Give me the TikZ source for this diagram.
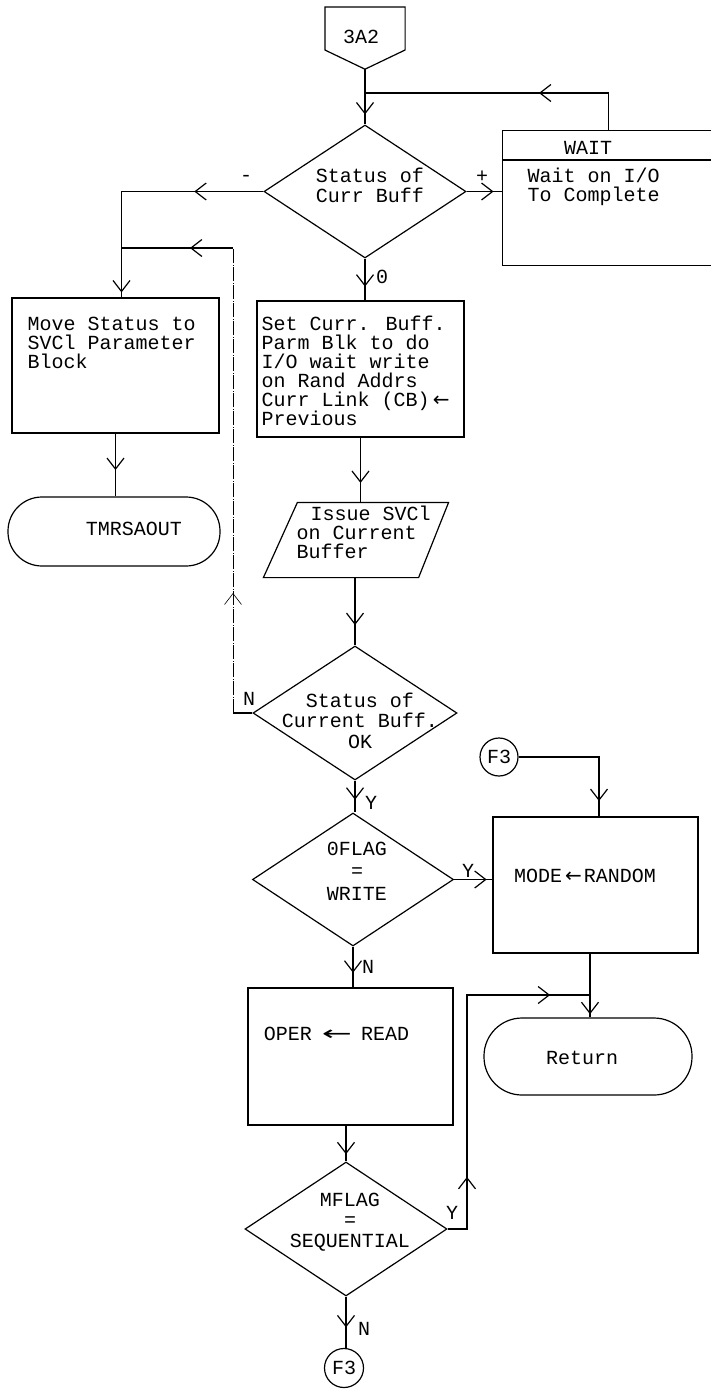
\documentclass[tikz,border=0pt]{standalone}
\usepackage{fontspec}
\usepackage{graphicx}
\setmainfont{Liberation Mono}
\newfontfamily\arrfont{DejaVu Sans}
\usetikzlibrary{arrows.meta,decorations.markings,shapes.geometric,calc}
\tikzset{
  >={Straight Barb[length=11pt,width=17pt]},
  am/.style={postaction={decorate},decoration={markings,mark=at position #1 with {\arrow{>}}}},
  amtwo/.style 2 args={postaction={decorate},decoration={markings,mark=at position #1 with {\arrow{>}},mark=at position #2 with {\arrow{>}}}},
  box/.style={draw,rectangle,inner sep=0pt},
  term/.style={draw,rectangle,inner sep=0pt},
  dia/.style={draw,diamond,inner sep=0pt},
  conn/.style={draw,circle,inner sep=0pt,font=\fontsize{20}{20}\selectfont},
  txt/.style={inner sep=0pt,font=\fontsize{20}{19}\selectfont},
  lbl/.style={inner sep=0pt,font=\fontsize{20}{20}\selectfont},
  dd/.style={line width=0.6pt,dash pattern=on 14pt off 1.5pt on 1pt off 1.5pt}
}
\begin{document}
\begin{tikzpicture}[x=1pt,y=-1pt,line width=1.2pt]
\path[use as bounding box,fill=white] (0,0) rectangle (710,1395);

% entry connector 3A2
\node[inner sep=0pt,minimum width=79,minimum height=61,anchor=north] (ent) at (365,7) {};
\draw (ent.north west) -- (ent.north east) -- ($(ent.north east)+(0,43)$) -- (ent.south) -- ($(ent.north west)+(0,43)$) -- cycle;
\node[lbl] (entt) at (361,37) {3A2};

% nodes
\node[dia,minimum width=202,minimum height=133] (d1) at (365,191.5) {};
\node[txt,align=center,font=\fontsize{20}{20}\selectfont] (d1t) at (370,185) {Status of\\Curr Buff};

\node[box,minimum width=218,minimum height=135,anchor=north west] (wait) at (502,130) {};
\draw ([yshift=-30pt]wait.north west) -- ([yshift=-30pt]wait.north east);
\node[lbl] (waith) at (588,148) {WAIT};
\node[txt,align=left,anchor=north west] (waitt) at (527,167.5) {Wait on I/O\\To Complete};

\node[box,minimum width=207,minimum height=135] (move) at (115.5,365.5) {};
\node[txt,align=left,anchor=north west] (movet) at (27,316.5) {Move Status to\\SVCl Parameter\\Block};

\node[term,rounded corners=34pt,minimum width=212,minimum height=69] (tmr) at (114,531.5) {};
\node[lbl] (tmrt) at (134,529) {TMRSAOUT};

\node[box,minimum width=207,minimum height=136] (set) at (360.5,369) {};
\node[txt,align=left,anchor=north west] (sett) at (261,315) {Set Curr. Buff.\\Parm Blk to do\\I/O wait write\\on Rand Addrs\\Curr Link (CB)\,{\arrfont ←}\\Previous};

\node[inner sep=0pt,minimum width=184,minimum height=74] (iss) at (356,540) {};
\draw ($(iss.north west)+(34,0)$) -- (iss.north east) -- ($(iss.south east)+(-30,0)$) -- (iss.south west) -- cycle;
\node[txt,align=left,anchor=north west] (isst) at (296,505.5) {\hspace{14pt}Issue SVCl\\on Current\\Buffer};

\node[dia,minimum width=204,minimum height=134] (d2) at (355,713) {};
\node[txt,align=center,font=\fontsize{20}{20.5}\selectfont] (d2t) at (360,720.5) {Status of\\Current Buff.\\OK};

\node[dia,minimum width=201,minimum height=133] (d3) at (353,879.5) {};
\node[txt,align=center,font=\fontsize{20}{22.5}\selectfont] (d3t) at (357,871) {0FLAG\\=\\WRITE};

\node[conn,minimum size=38] (f3t) at (499,757) {F3};

\node[box,minimum width=205,minimum height=136] (mode) at (595.5,885) {};
\node[lbl] (modet) at (585,875.5) {MODE\hspace{3pt}{\arrfont ←}\hspace{2pt}RANDOM};

\node[box,minimum width=205,minimum height=137] (oper) at (350.5,1056.5) {};
\node[lbl] (opert) at (336.5,1033.5) {OPER\hspace{10pt}\scalebox{1.8}[1]{\arrfont ←}\hspace{9pt}READ};

\node[term,rounded corners=38pt,minimum width=208,minimum height=77] (ret) at (588,1056.5) {};
\node[lbl] (rett) at (582,1058) {Return};

\node[dia,minimum width=202,minimum height=134] (d4) at (346,1229) {};
\node[txt,align=center,font=\fontsize{20}{20.5}\selectfont] (d4t) at (350,1222) {MFLAG\\=\\SEQUENTIAL};

\node[conn,minimum size=39] (f3b) at (344,1368) {F3};

% junction coordinates
\coordinate (j1) at (365,93);
\coordinate (nb) at (233,713);
\coordinate (nt) at (233,248);
\coordinate (j2) at (121.5,248);
\coordinate (ny) at (467,1229);
\coordinate (jr) at (590,995);

% connectors
\draw[am=0.82] (ent.south) -- (d1.north);
\draw[am=0.38] ([xshift=-3]wait.north) |- (j1);
\draw[am=0.76] (d1.east) -- (d1.east -| wait.west);
\draw[amtwo={0.279}{0.98}] (d1.west) -| ([xshift=6]move.north);
\draw[am=0.58] (move.south) -- (move.south |- tmr.north);
\draw[am=0.67] (d1.south) -- (d1.south |- set.north);
\draw[am=0.7] (set.south) -- (set.south |- iss.north);
\draw[am=0.7] (d2.north |- iss.south) -- (d2.north);
\draw (d2.west) -- (nb);
\draw[dd,am=0.258] (nb) -- (nt);
\draw[am=0.386] (nt) -- (j2);
\draw[am=0.6] (d2.south) -- (d2.south |- d3.north);
\draw[am=0.85] (d3.east) -- (d3.east -| mode.west);
\draw[am=0.89] (f3t.east) -| ([xshift=3.5]mode.north);
\draw[am=0.95] ([xshift=-5.5]mode.south) -- ([xshift=-5.5]mode.south |- ret.north);
\draw[am=0.64] (d3.south) -- (d3.south |- oper.north);
\draw[am=0.8] (d4.north |- oper.south) -- (d4.north);
\draw[amtwo={0.19}{0.894}] (d4.east) -- (ny) |- (jr);
\draw[am=0.6] (d4.south) -- (d4.south |- f3b.north);

% connector labels
\node[lbl] (lplus) at (482,177) {+};
\node[lbl] (lminus) at (246,178) {-};
\node[lbl] (lzero) at (382,277) {0};
\node[lbl] (ln1) at (249,699) {N};
\node[lbl] (ly1) at (371,803) {Y};
\node[lbl] (ly2) at (468,871) {Y};
\node[lbl] (ln2) at (368,967) {N};
\node[lbl] (ly3) at (452,1213) {Y};
\node[lbl] (ln3) at (364,1329) {N};
\end{tikzpicture}
\end{document}
